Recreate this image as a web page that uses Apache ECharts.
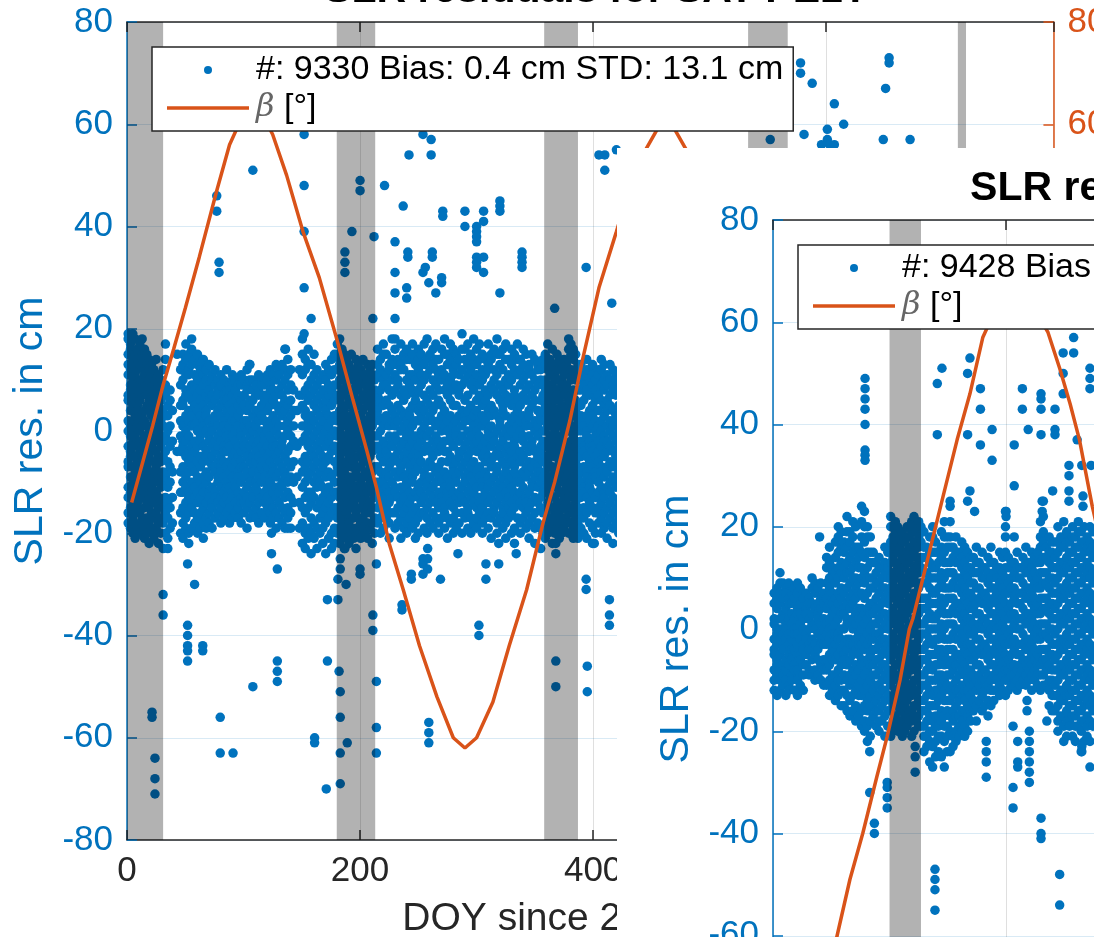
<!DOCTYPE html>
<html>
<head>
<meta charset="utf-8">
<script src="https://cdn.jsdelivr.net/npm/echarts/dist/echarts.min.js"></script>
<style>
html,body{margin:0;padding:0;width:1094px;height:937px;overflow:hidden;background:#fff;position:relative}
.fig{position:absolute;width:1150px;height:1000px;background:#fff}
#figA{left:-29px;top:-50px}
#figB{left:617px;top:148px}
</style>
</head>
<body>
<div id="figA" class="fig"></div>
<div id="figB" class="fig"></div>
<script>
// ---- figure A: SLR residuals, each row is [DOY, res, res, ...] in cm ----
const titleA = 'SLR residuals for SAT PE1T';
const legendA = ['#: 9330 Bias: 0.4 cm STD: 13.1 cm', 'β [°]'];
const xNameA = 'DOY since 2022-01-01';
const resA = [
  [1,19,18,15,13,11,7,6,2,0,-3,-6,-7,-11,-13,-16,-18],
  [3,17,16,12,9,8,4,1,-1,-4,-5,-9,-12,-15,-19],
  [5,19,14,13,10,6,5,2,-2,-3,-7,-10,-11,-14,-17,-20],
  [7,18,15,11,9,7,3,0,-1,-5,-8,-9,-13,-16,-18,-21],
  [9,16,14,12,8,5,4,1,-3,-6,-7,-10,-14,-15,-19],
  [11,17,13,10,9,6,2,0,-2,-4,-8,-11,-12,-16,-20],
  [13,18,15,14,10,7,3,1,-3,-5,-6,-9,-13,-17,-18],
  [15,16,12,11,8,4,2,-1,-2,-6,-8,-10,-12,-15,-19,-21],
  [17,15,13,9,7,5,1,-2,-4,-7,-9,-11,-14,-17,-20],
  [19,14,12,10,6,4,0,-1,-5,-6,-10,-13,-15,-18,-22],
  [21,13,11,8,5,3,1,-3,-4,-8,-11,-12,-16,-19],
  [23,12,9,7,6,2,-1,-2,-6,-9,-10,-14,-17,-20,-21],
  [25,14,10,8,4,1,0,-4,-7,-8,-12,-13,-16,-19],
  [27,11,9,5,3,0,-2,-5,-6,-10,-13,-15,-18,-22],
  [29,10,7,6,2,-1,-3,-6,-9,-11,-14,-17,-20],
  [31,12,8,4,1,-2,-5,-8,-10,-15,-18,-23],
  [33,17,14,9,7,3,-1,-4,-9,-13,-16,-20],
  [35,5,3,0,-2,-6,-8,-11,-14,-17,-21,-23],
  [37,8,6,1,-3,-7,-10,-15,-19],
  [39,4,-2,-8,-13,-18],
  [43,15,-4],
  [46,12,9,5,2,-1,-4,-8,-12,-16,-20],
  [48,15,13,10,6,5,1,-2,-3,-7,-10,-12,-15,-18,-21],
  [50.5,17,14,11,8,7,3,0,-2,-5,-9,-11,-14,-17,-19],
  [53,15,12,11,7,4,2,-1,-4,-6,-8,-12,-13,-16,-20,-22],
  [55.5,18,16,13,9,6,3,1,-3,-5,-7,-10,-14,-15,-19],
  [58,14,11,9,8,5,1,-2,-4,-8,-11,-13,-16,-18],
  [60.5,15,13,10,7,4,2,0,-3,-6,-9,-12,-14,-17,-20],
  [63,13,12,8,6,3,-1,-2,-5,-7,-10,-13,-16,-19],
  [65.5,14,11,9,5,2,1,-3,-6,-9,-11,-12,-15,-18,-21],
  [68,12,10,7,4,3,0,-4,-5,-8,-10,-14,-17,-19],
  [70.5,13,9,8,6,2,-1,-2,-6,-9,-12,-13,-16,-18],
  [73,11,10,7,5,1,0,-3,-5,-7,-11,-14,-15,-19],
  [75.5,12,9,6,3,2,-2,-4,-7,-8,-12,-13,-17],
  [78,10,8,7,4,1,-1,-3,-6,-9,-10,-14,-16],
  [80.5,11,9,5,3,0,-2,-5,-7,-8,-11,-13,-15,-18],
  [83,10,7,6,2,1,-3,-4,-6,-9,-12,-14,-17],
  [85.5,12,8,6,4,0,-1,-4,-7,-10,-11,-13,-16],
  [88,9,8,5,3,1,-2,-3,-6,-8,-11,-14,-15,-18],
  [90.5,11,10,7,4,2,-1,-5,-7,-9,-12,-13,-17],
  [93,10,8,6,2,0,-2,-4,-6,-10,-11,-14,-16],
  [95.5,9,7,5,3,1,-3,-5,-8,-9,-12,-15,-17],
  [98,11,9,6,4,0,-1,-4,-6,-7,-10,-13,-14,-18],
  [100.5,10,7,5,2,1,-2,-3,-7,-9,-12,-14,-16],
  [103,12,9,8,4,2,0,-4,-5,-8,-11,-13,-15,-19],
  [105.5,13,10,6,5,1,-1,-3,-6,-9,-10,-14,-17],
  [108,10,8,6,3,0,-2,-5,-7,-8,-12,-13,-16],
  [110.5,9,7,4,2,1,-3,-4,-6,-10,-11,-15,-17],
  [113,11,8,7,4,2,-1,-2,-5,-8,-9,-12,-14,-18],
  [115.5,10,9,5,3,0,-3,-6,-7,-10,-13,-16],
  [118,9,7,6,2,-1,-2,-4,-8,-9,-12,-14,-17],
  [120.5,11,10,7,4,1,0,-3,-5,-7,-11,-13,-15],
  [123,12,9,8,5,2,-1,-4,-6,-9,-10,-14,-16,-18],
  [125.5,11,8,6,3,1,-2,-3,-7,-8,-12,-15,-17],
  [128,13,10,7,5,2,0,-3,-5,-9,-11,-13,-16,-19],
  [130.5,12,11,8,4,1,-1,-4,-6,-8,-12,-14,-17],
  [133,13,9,7,5,3,-2,-3,-7,-10,-11,-15,-18],
  [135.5,16,12,10,6,4,1,-1,-5,-8,-9,-13,-16,-19],
  [138,14,11,8,5,2,0,-4,-6,-10,-12,-15,-17],
  [140.5,12,9,6,3,-1,-3,-7,-9,-13,-16,-19],
  [143,8,4,1,-2,-6,-10,-14],
  [146,4,-3,-9],
  [148,12,7,-14,-19],
  [150.5,18,15,11,7,5,1,-2,-6,-8,-11,-15,-18,-22],
  [153,14,12,8,4,3,-1,-5,-7,-10,-13,-16,-20,-23],
  [155.5,16,13,9,6,2,0,-3,-6,-9,-12,-15,-19,-21],
  [158,13,10,7,3,1,-2,-4,-8,-12,-14,-17,-20,-24],
  [160.5,15,11,8,5,2,-1,-5,-7,-10,-13,-18,-21],
  [163,12,9,6,4,0,-3,-6,-9,-11,-15,-19,-23],
  [165.5,10,7,3,1,-2,-4,-8,-10,-14,-17,-20],
  [168,11,8,5,2,-1,-5,-7,-11,-13,-16,-19,-22],
  [170.5,13,10,6,4,0,-3,-6,-9,-12,-15,-18,-24],
  [173,12,9,7,3,1,-2,-5,-8,-11,-14,-17,-21],
  [175.5,14,11,8,5,2,-1,-4,-9,-13,-16,-20,-23],
  [178,15,12,9,6,3,0,-3,-6,-10,-12,-15,-19,-22],
  [180.5,17,15,12,9,7,3,2,-1,-4,-7,-8,-12,-15,-17,-20],
  [182.5,18,14,13,10,6,4,0,-3,-5,-6,-10,-13,-16,-19,-22],
  [184.5,16,13,11,8,5,2,1,-2,-6,-9,-11,-14,-18,-21],
  [186.5,15,14,10,7,4,3,-1,-4,-7,-8,-12,-15,-17,-20,-23],
  [188.5,14,12,9,8,5,1,-2,-3,-6,-10,-13,-16,-19,-21],
  [190.5,13,11,10,6,2,0,-3,-5,-9,-11,-14,-17,-18,-22],
  [192.5,15,12,8,5,3,1,-1,-4,-7,-10,-12,-15,-19,-20],
  [194.5,12,10,7,4,1,-2,-5,-6,-9,-13,-14,-17,-21],
  [196.5,14,11,9,6,2,0,-3,-7,-8,-11,-15,-16,-19,-23],
  [198.5,13,9,8,5,3,-1,-2,-5,-9,-12,-13,-17,-20],
  [200.5,12,10,6,3,1,-2,-4,-7,-10,-11,-15,-18,-21],
  [202.5,14,11,7,4,0,-1,-5,-6,-9,-12,-14,-17,-19],
  [204.5,11,9,6,2,1,-3,-4,-8,-11,-13,-16,-20],
  [206.5,13,10,8,5,2,-1,-3,-6,-9,-12,-15,-18,-21],
  [208.5,12,9,7,3,0,-2,-5,-7,-10,-14,-16,-19],
  [210.5,13,11,6,4,1,-1,-4,-8,-11,-12,-15,-18,-22],
  [212.5,10,8,5,2,-1,-3,-7,-10,-13,-17,-20],
  [215,16,13,11,7,4,3,-1,-3,-7,-10,-11,-15,-18],
  [217.5,14,12,8,6,2,0,-4,-5,-8,-12,-14,-17,-20],
  [220,17,15,10,9,5,1,-2,-6,-9,-10,-13,-16,-19],
  [222.5,15,11,9,6,3,2,-3,-4,-8,-11,-15,-17],
  [225,13,12,8,5,1,-1,-5,-7,-9,-12,-14,-18,-21],
  [227.5,18,14,10,7,4,2,-2,-3,-6,-10,-13,-16],
  [230,16,13,11,8,3,1,-1,-5,-8,-11,-12,-16,-19],
  [232.5,14,10,9,5,2,-2,-4,-6,-9,-13,-15,-18],
  [235,17,13,12,7,4,0,-3,-7,-8,-11,-14,-17,-21],
  [237.5,15,12,8,6,3,1,-2,-5,-9,-12,-13,-16,-19],
  [240,16,14,10,7,2,-1,-4,-6,-10,-11,-15,-18,-20],
  [242.5,14,11,9,4,3,0,-3,-7,-8,-12,-14,-17],
  [245,17,15,11,8,5,1,-2,-5,-9,-10,-13,-16,-19],
  [247.5,13,10,7,6,2,-1,-4,-6,-8,-12,-15,-18,-21],
  [250,16,14,12,8,4,2,-3,-5,-7,-11,-13,-17,-20],
  [252.5,15,11,9,5,3,0,-2,-6,-10,-12,-14,-16],
  [255,17,13,10,7,4,1,-1,-4,-8,-9,-13,-16,-19],
  [257.5,18,14,11,6,2,-1,-3,-7,-10,-11,-15,-17,-20],
  [260,15,12,8,5,3,0,-4,-6,-9,-12,-14,-18],
  [262.5,16,13,10,7,4,2,-2,-5,-7,-11,-13,-16,-19],
  [265,17,14,12,9,5,1,-1,-3,-8,-10,-14,-17],
  [267.5,14,11,8,6,2,-2,-4,-7,-9,-12,-15,-18,-20],
  [270,16,12,10,5,3,0,-3,-6,-10,-13,-14,-17],
  [272.5,18,15,11,8,4,1,-2,-4,-8,-11,-15,-16,-19],
  [275,15,13,9,7,2,0,-4,-6,-9,-12,-13,-17,-21],
  [277.5,17,14,10,6,3,-1,-2,-5,-10,-11,-14,-18],
  [280,16,12,11,8,5,1,-3,-7,-8,-12,-15,-17,-20],
  [282.5,15,13,9,5,2,0,-1,-6,-9,-10,-13,-16,-19],
  [285,14,11,8,7,3,-2,-4,-5,-8,-12,-14,-18],
  [287.5,19,16,12,9,4,1,-1,-4,-7,-11,-13,-16,-20],
  [290,16,14,10,6,3,2,-3,-6,-9,-10,-14,-17],
  [292.5,17,13,11,7,4,0,-2,-5,-8,-12,-15,-16,-19],
  [295,15,12,9,5,2,-1,-4,-7,-9,-11,-13,-17,-20],
  [297.5,18,14,10,8,3,1,-3,-6,-10,-12,-14,-18],
  [300,16,13,11,6,4,0,-2,-4,-8,-11,-15,-17,-19],
  [302.5,17,14,9,7,2,-1,-4,-7,-9,-13,-14,-16],
  [305,15,12,10,5,3,1,-3,-5,-10,-11,-15,-18,-20],
  [307.5,14,11,8,6,2,-2,-4,-6,-8,-12,-13,-17],
  [310,17,13,12,7,4,0,-1,-5,-9,-11,-14,-16,-19],
  [312.5,15,14,9,5,3,1,-3,-6,-7,-10,-13,-17,-21],
  [315,16,12,10,8,4,-1,-2,-5,-9,-12,-15,-16],
  [317.5,18,15,11,7,3,0,-4,-7,-8,-11,-14,-18,-20],
  [320,15,13,9,6,2,1,-3,-5,-10,-12,-13,-17],
  [322.5,16,12,8,5,4,-1,-2,-6,-9,-11,-15,-16,-19],
  [325,17,14,10,7,3,0,-4,-7,-8,-12,-14,-18,-21],
  [327.5,14,11,9,6,1,-1,-3,-5,-10,-13,-15,-17],
  [330,16,13,10,5,2,0,-4,-6,-9,-11,-14,-16,-20],
  [332.5,15,12,8,7,3,-2,-3,-7,-8,-12,-15,-19,-22],
  [335,17,14,11,6,4,1,-1,-5,-9,-10,-13,-17],
  [337.5,14,12,9,5,2,0,-4,-6,-10,-12,-14,-18,-20],
  [340,16,13,10,7,3,-1,-2,-5,-8,-11,-15,-17],
  [342.5,15,11,8,6,2,1,-3,-7,-9,-13,-14,-16,-19],
  [345,13,12,9,4,3,-1,-4,-6,-8,-12,-15,-18,-21],
  [347.5,15,11,7,5,1,-2,-3,-7,-10,-11,-14,-17],
  [350,14,10,8,6,2,0,-4,-6,-9,-13,-16,-19,-22],
  [352.5,13,12,9,4,1,-1,-5,-7,-8,-11,-14,-18],
  [355,12,10,6,3,2,-3,-4,-8,-10,-13,-15,-19,-23],
  [357,14,9,7,4,0,-2,-6,-9,-12,-16,-20],
  [359,15,13,10,8,5,2,0,-3,-5,-8,-11,-12,-16,-19,-21],
  [361,17,14,12,9,6,3,1,-2,-6,-7,-10,-14,-15,-18,-20],
  [363,14,12,11,7,4,2,-1,-4,-5,-9,-12,-13,-17,-19],
  [365,16,13,9,8,5,1,-2,-3,-7,-10,-11,-15,-18,-22],
  [367,13,11,10,6,3,0,-1,-5,-8,-9,-13,-16,-17,-20],
  [369,15,12,8,7,4,2,-3,-4,-7,-11,-14,-15,-19],
  [371,14,13,10,6,3,1,-2,-6,-9,-10,-12,-16,-18,-21],
  [373,12,10,9,5,2,-1,-3,-5,-8,-12,-14,-17,-20],
  [375,14,11,8,7,4,0,-2,-6,-7,-10,-13,-15,-19],
  [377,13,12,9,5,3,1,-4,-5,-9,-11,-14,-17,-18],
  [379,18,16,14,11,8,6,2,0,-3,-6,-8,-12,-13,-16,-20],
  [381,17,15,12,10,7,4,1,-2,-4,-7,-10,-11,-15,-18],
  [383,16,14,11,8,5,3,0,-1,-5,-8,-9,-13,-16,-19,-21],
  [385,15,12,10,6,4,1,-2,-3,-6,-10,-12,-14,-17,-20],
  [387,13,11,8,5,2,0,-4,-7,-9,-11,-15,-18,-21],
  [389.5,13,10,8,5,3,0,-2,-5,-8,-10,-13,-16,-19],
  [392,11,9,6,2,1,-3,-4,-7,-11,-12,-15,-17,-20],
  [394.5,14,12,8,7,3,0,-1,-5,-8,-9,-13,-16,-21],
  [397,12,10,7,4,2,-2,-3,-6,-10,-11,-14,-18],
  [399.5,13,11,9,5,3,1,-3,-4,-7,-9,-12,-15,-19,-22],
  [402,10,8,6,2,0,-1,-5,-8,-9,-13,-16,-20],
  [404.5,12,11,7,4,1,-2,-4,-6,-10,-12,-15,-18],
  [407,14,12,9,6,2,0,-3,-7,-8,-11,-14,-17,-20],
  [409.5,13,10,8,5,3,-1,-2,-5,-9,-12,-13,-16,-19],
  [412,11,9,6,4,1,-2,-4,-7,-8,-11,-15,-18,-21],
  [414.5,13,10,7,5,2,0,-3,-6,-10,-12,-14,-17],
  [417,12,9,8,4,1,-1,-4,-7,-9,-13,-16,-19,-22],
  [419.5,11,10,7,3,2,-2,-5,-6,-10,-11,-15,-18],
  [422,10,8,5,3,0,-3,-5,-8,-11,-14,-17,-20]
];
const outA = [
  [21.5,-55,-56],[24,-64,-68,-71],[31,-32,-36],[52,-26,-38,-40,-42,-43,-45],[58,-30],[65,-42,-43],
  [77,46,43],[79,33,31],[80,-56,-63],[91,-63],[105,13],[108,51,-50],[124,-20,-24],[129,-27,-45,-47,-49],
  [136,16],[138,-19],[152,58,48,39,28,19],[158,22],[161,-60,-61],[171,-70],[172,-33,-45],[181,-29,-33],
  [183,-25,-27,-51,-56,-63,-69],[182,-47],[187,35,33,31,-23],[188,-30],[189,-61],[193,39],[200,49,47,-27,-28],
  [211,22,-36,-39],[212,38],[214,-26,-49,-58,-63],[221,48],[230,37,31,27,22,18],[236,-34,-35],[237,44],
  [240,28,26],[241,35,34],[242,54],[244,-28,-29],[254,58,31,-25,-26,-28],[256,32],[258,-23,-25,-27],
  [259,29,-57,-59,-61],[261,57,54],[262,35,34],[265,27],[269,-29],[270,30,29],[271,43,42],[284,-24],
  [290,43,40],[300,40,39,38,37,34,33,32],[302,-38,-40],[306,43,41,34,31],[308,-26,-29],[319,-22,-26],
  [320,45,44,43,27],[334,-24],[339,35,34,33,32],[367,24],[368,-22,-24,-45,-50],[394,32,-29,-31],
  [395,-46,-51],[401,-22],[405,54],[410,54,51],[414,-33,-36,-38],[416,25],[420,55],
  [552,57],[578,72,70],[581,58],[588,68],[596,56],[601,59,57],[603,56],[607,64,56],[615,60],
  [649,57],[651,67],[654,72,73],[672,57]
];
const betaA = [[4,-14],[10,-9],[16,-4],[22,1],[31,9],[40,16],[50,24],[62,34],[77,47],[88,56],[98,61],
  [107,63],[116,62],[125,58],[137,50],[151,39],[165,30],[180,18],[194,6],[206,-4],[214,-11],[225,-22],
  [237,-31],[251,-42],[266,-52],[280,-60],[290,-62],[300,-60],[314,-53],[328,-42],[343,-31],[357,-18],
  [367,-10],[380,2],[391,14],[405,28],[420,39],[432,48],[445,55],[455,59],[462,60],[470,59],[480,55],
  [490,49],[500,42]];
const shadeA = [[0,31],[180,213],[358,387],[533,567],[713,720]];

// ---- figure B ----
const titleB = 'SLR residuals for SAT PE1T';
const legendB = ['#: 9428 Bias: 0.6 cm STD: 12.8 cm', 'β [°]'];
const xNameB = 'DOY since 2022-01-01';
const resB = [
  [1,7,5,2,1,-2,-4,-5,-8,-10,-12],
  [3.5,8,6,4,0,-1,-3,-6,-7,-9,-13],
  [6,11,9,7,5,2,0,-2,-5,-8,-10,-12],
  [8.5,9,6,3,2,-1,-3,-4,-7,-9,-11],
  [11,8,7,4,1,0,-2,-6,-8,-10,-13],
  [13.5,9,6,5,2,-1,-3,-5,-7,-11,-12],
  [16,7,5,3,1,-2,-4,-6,-9,-10],
  [18.5,8,6,2,0,-1,-4,-7,-8,-12],
  [21,9,7,4,3,-1,-3,-5,-8,-10,-13],
  [23.5,8,5,3,1,-2,-5,-6,-9,-11],
  [26,7,6,2,0,-3,-4,-7,-9,-12],
  [28.5,7,4,3,-1,-2,-5,-7],
  [31,6,5,2,0,-3,-4,-8,-9],
  [33.5,10,8,5,3,1,-2,-4,-6,-9],
  [36,9,7,4,1,0,-3,-5,-8,-10],
  [38.5,8,5,3,2,-1,-4,-6,-9],
  [41,9,6,4,1,-2,-3,-7,-10],
  [43.5,7,5,2,0,-3,-6,-8,-11],
  [46,14,12,9,6,4,1,-1,-3,-6,-8,-11],
  [48.5,16,13,10,8,5,2,0,-2,-5,-7,-10,-13],
  [51,12,11,7,5,3,0,-1,-4,-6,-9,-12],
  [53.5,17,14,11,9,6,4,1,-1,-3,-6,-9,-11,-14],
  [56,20,18,15,12,10,7,5,2,-1,-2,-5,-8,-10,-13],
  [58.5,19,16,13,11,8,6,3,0,-2,-4,-7,-10,-12,-15],
  [61,17,15,12,10,7,4,3,0,-3,-5,-6,-9,-12,-15],
  [63.5,22,19,16,13,11,8,5,2,1,-2,-4,-7,-10,-13,-16],
  [66,19,17,14,11,9,6,4,1,-2,-3,-6,-9,-11,-14,-17],
  [68.5,21,18,15,12,10,7,5,2,0,-3,-5,-8,-10,-13,-16],
  [71,20,16,13,10,8,6,3,1,-2,-4,-7,-9,-12,-15,-18],
  [73.5,16,14,12,9,7,4,2,-1,-3,-5,-8,-11,-13,-17],
  [76,24,21,18,15,12,10,7,4,2,0,-3,-6,-7,-10,-13,-16,-19],
  [78.5,23,20,17,14,11,9,6,3,1,-2,-4,-7,-9,-12,-15,-18,-20],
  [81,20,18,15,12,10,7,4,2,-1,-3,-6,-8,-11,-14,-16,-19,-22],
  [83.5,18,15,13,10,8,5,3,0,-2,-5,-7,-10,-13,-15,-18,-21],
  [86,15,13,10,8,5,3,1,-2,-4,-7,-9,-12,-15,-17],
  [88.5,13,11,9,6,4,1,-1,-4,-6,-9,-11,-14,-16,-19],
  [91,14,12,9,7,4,2,-1,-3,-6,-8,-11,-13,-16,-18,-20],
  [93.5,12,10,8,5,3,0,-2,-5,-7,-10,-12,-15,-18],
  [96,16,13,11,8,6,3,1,-2,-4,-7,-9,-12,-14,-17,-21],
  [98.5,15,12,10,7,5,2,0,-3,-5,-8,-10,-13,-16,-19],
  [101,22,20,17,15,13,10,8,6,3,1,-2,-4,-6,-9,-11,-14,-16,-19,-21],
  [103,18,16,14,11,9,7,4,2,-1,-3,-5,-8,-10,-13,-15,-18,-20],
  [105,21,19,16,13,11,8,6,3,1,-2,-4,-7,-9,-12,-14,-17,-19],
  [107,20,17,15,12,10,7,5,2,0,-2,-5,-7,-10,-12,-15,-18,-20],
  [109,18,16,13,11,8,6,3,1,-2,-4,-6,-9,-11,-14,-16,-19],
  [111,19,17,14,12,9,7,4,2,-1,-3,-6,-8,-11,-13,-16,-18,-21],
  [113,17,15,12,10,7,5,2,0,-3,-5,-7,-10,-12,-15,-17,-20],
  [115,20,18,15,13,10,8,5,3,0,-2,-4,-7,-9,-12,-14,-17,-19],
  [117,18,16,13,11,9,6,4,1,-1,-4,-6,-8,-11,-13,-16,-18],
  [119,21,19,16,14,11,9,6,4,1,-1,-3,-6,-8,-11,-13,-16,-18,-21],
  [121,22,20,17,15,12,10,7,5,2,0,-3,-5,-7,-10,-12,-15,-17,-20],
  [123,19,17,14,12,9,7,4,2,-1,-3,-6,-8,-10,-13,-15,-18],
  [125,21,18,16,13,11,8,6,3,1,-2,-4,-7,-9,-12,-14,-17,-19],
  [127,20,17,14,12,9,6,4,1,-1,-4,-6,-9,-11,-14,-16,-19],
  [129.5,19,16,14,11,9,6,4,1,-1,-4,-6,-9,-11,-14,-16,-19,-21,-24],
  [132,16,14,11,9,6,4,2,-1,-3,-6,-8,-11,-13,-16,-18,-21,-23],
  [134.5,18,15,13,10,8,5,3,0,-2,-5,-7,-10,-12,-15,-17,-20,-22,-26],
  [137,20,18,15,12,10,7,5,2,0,-3,-5,-8,-10,-13,-15,-18,-20,-23,-27],
  [139.5,17,15,12,10,7,5,2,0,-2,-5,-7,-10,-12,-15,-17,-19,-22,-25],
  [142,15,13,10,8,5,3,0,-2,-4,-7,-9,-12,-14,-17,-19,-21,-24],
  [144.5,19,16,14,11,9,6,4,1,-1,-4,-6,-9,-11,-13,-16,-18,-21,-25],
  [147,21,18,15,13,10,8,5,3,0,-2,-5,-7,-10,-12,-14,-17,-19,-22,-27],
  [149.5,18,16,13,11,8,6,3,1,-2,-4,-6,-9,-11,-14,-16,-19,-21,-24],
  [152,24,21,18,16,13,11,8,6,3,1,-2,-4,-7,-9,-12,-14,-17,-20,-24],
  [154.5,16,14,11,9,6,4,1,-1,-4,-6,-8,-11,-13,-16,-18,-21,-23],
  [157,18,15,13,10,8,5,3,0,-2,-5,-7,-10,-12,-15,-17,-20,-22],
  [159.5,15,13,10,8,5,3,0,-2,-5,-7,-9,-12,-14,-17,-19,-21],
  [162,17,14,12,9,7,4,2,-1,-3,-6,-8,-11,-13,-16,-18,-20],
  [164.5,16,13,11,8,6,3,1,-2,-4,-7,-9,-12,-14,-16,-19,-21],
  [167,15,12,10,7,5,2,0,-3,-5,-8,-10,-12,-15,-17,-20],
  [169.5,14,12,9,7,4,2,-1,-3,-6,-8,-11,-13,-16,-18],
  [172,14,11,9,6,4,1,-1,-4,-6,-9,-11,-14,-16],
  [174.5,16,13,11,8,5,3,0,-2,-5,-7,-10,-12,-15,-18],
  [177,13,11,8,6,3,1,-2,-4,-7,-9,-11,-14],
  [179.5,15,12,10,7,5,2,0,-3,-5,-8,-10,-13,-16],
  [182,12,10,7,5,2,0,-3,-5,-8,-10,-12,-15],
  [184.5,14,11,9,6,4,1,-1,-4,-6,-9,-11,-14,-17],
  [187,16,13,10,8,5,3,0,-2,-5,-7,-10,-12,-15],
  [189.5,13,11,8,6,3,1,-2,-4,-7,-9,-12,-14],
  [192,12,10,7,5,2,0,-3,-5,-8,-10,-12],
  [194.5,15,12,9,7,4,2,-1,-3,-6,-8,-11,-13],
  [197,14,11,8,6,3,1,-2,-4,-7,-9,-12],
  [199.5,23,20,18,15,12,10,7,5,2,0,-3,-5,-8,-10,-13],
  [202,14,12,9,7,4,2,-1,-3,-6,-8,-10,-12],
  [204.5,13,10,8,5,3,0,-2,-5,-7,-9,-11],
  [207,13,11,8,6,3,1,-2,-4,-7,-9,-11],
  [209.5,15,12,10,7,5,2,0,-3,-5,-8,-10,-12],
  [212,12,10,7,5,2,0,-3,-5,-7,-9,-11],
  [214.5,14,12,9,7,4,2,-1,-3,-6,-8,-10],
  [217,16,13,11,8,6,3,1,-2,-4,-7,-9,-11],
  [219.5,13,11,8,6,3,1,-2,-4,-6,-8,-10],
  [222,15,12,10,7,5,2,0,-3,-5,-7,-9,-12],
  [224.5,14,11,9,6,4,1,-1,-4,-6,-8,-10],
  [227,15,13,10,8,5,3,0,-2,-5,-7,-9,-11],
  [229.5,21,18,16,13,11,8,6,3,1,-2,-4,-7,-9,-12],
  [232,25,22,19,17,14,11,9,6,4,1,-1,-4,-6,-9,-11],
  [234.5,16,14,11,9,6,4,1,-1,-4,-6,-8,-11],
  [237,18,15,13,10,8,5,3,0,-2,-5,-7,-10,-12,-15],
  [239.5,17,15,12,10,7,5,2,0,-3,-5,-8,-10,-13,-16],
  [242,17,14,12,9,7,4,2,-1,-3,-6,-8,-11,-13,-16],
  [244.5,20,17,15,12,10,7,5,2,0,-3,-5,-8,-10,-13,-15,-18,-20],
  [247,18,16,13,11,8,6,3,1,-2,-4,-7,-9,-12,-14,-17],
  [249.5,21,18,16,13,11,8,6,3,1,-2,-4,-7,-9,-12,-14,-17,-19,-22],
  [252,19,17,14,12,9,7,4,2,-1,-3,-6,-8,-11,-13,-16,-18,-21],
  [254.5,17,15,12,10,7,5,2,0,-3,-5,-8,-10,-13,-15,-18,-19],
  [257,20,18,15,13,10,8,5,3,0,-2,-5,-7,-10,-12,-15,-17,-21],
  [259.5,18,16,13,11,8,6,3,1,-2,-4,-7,-9,-12,-14,-17,-19,-22],
  [262,21,19,16,14,11,9,6,4,1,-1,-4,-6,-9,-11,-14,-16,-19],
  [264.5,19,17,14,12,9,7,4,2,-1,-3,-6,-8,-11,-13,-16,-18,-20,-24],
  [267,20,17,15,12,10,7,5,2,0,-3,-5,-8,-10,-13,-15,-18,-22],
  [269.5,18,16,13,11,8,6,3,1,-2,-4,-7,-9,-12,-14,-17,-19,-21],
  [272,20,17,15,12,10,7,5,2,0,-3,-5,-8,-10,-13,-15,-18,-22],
  [274.5,19,16,14,11,9,6,4,1,-1,-4,-6,-9,-11,-14,-16,-19]
];
const outB = [
  [40,18],[79,49,47,45,43,40,35,34,33],[141,48,38],[145,51],[152,25],[167,50,38,25],[169,53,27],[173,23],
  [178,47,43,36],[188,39,33],[200,23,22],[207,36,28,18],[214,47,43],[219,39],[230,46,45,43,38],[231,25,23],
  [240,27],[242,43,39,38],[249,54,50,46],[254,32,30,27,25],[258,57,54],[261,37],[265,32],[266,26,24],
  [272,51,49,47],[273,32],
  [83,-24,-32],[87,-38,-40],[98,-30,-31,-33,-35],[122,-23,-25,-28],[139,-47,-49,-51,-55],[183,-22,-24,-26,-29],
  [206,-19,-31,-35],[210,-22,-26,-27],[220,-20,-22,-24,-26,-28,-30],[218,-14,-16],[230,-37,-40,-41],
  [235,-18],[246,-48,-54],[265,-23,-24],[272,-27]
];
const betaB = [[36,-78],[45,-70],[55,-60],[66,-49],[77,-40],[89,-29],[98,-21],[109,-10],[117,0],[120,2],
  [132,13],[146,26],[158,37],[169,46],[180,57],[190,62],[200,65],[208,66],[216,65],[226,62],[236,58],
  [246,51],[255,44],[263,37],[274,24],[285,13],[295,3]];
const shadeB = [[100,127]];

const yRange = [-80, 80, 20];
const xRange = [0, 795, 200];

const FONT = 'Liberation Sans, Arial, Helvetica, sans-serif';
const BLUE = '#0072BD', ORANGE = '#D95319', AX = '#262626';

function toPoints(rows) {
  const pts = [];
  rows.forEach(r => { for (let i = 1; i < r.length; i++) pts.push([r[0], r[i]]); });
  return pts;
}

function buildOption(title, legendNames, xName, res, out, beta, shade) {
  const xBase = {
    type: 'value', min: xRange[0], max: xRange[1], interval: xRange[2],
    axisLine: { show: true, onZero: false, lineStyle: { color: AX, width: 1.5 } },
    axisTick: { show: true, inside: true, length: 10, lineStyle: { color: AX, width: 1.5 } }
  };
  const yBase = { type: 'value', min: yRange[0], max: yRange[1], interval: yRange[2] };
  return {
    animation: false,
    title: {
      text: title, left: 620, top: 15, textAlign: 'center',
      textStyle: { fontFamily: FONT, fontSize: 41, fontWeight: 'bold', color: '#000' }
    },
    legend: {
      data: [
        { name: legendNames[0], icon: 'circle' },
        { name: legendNames[1], icon: 'path://M0,0H82V3.5H0Z' }
      ],
      orient: 'vertical', left: 181, top: 97, z: 10,
      itemWidth: 82, itemHeight: 8, itemGap: 0, padding: [4, 10, 4, 15],
      backgroundColor: '#fff', borderColor: AX, borderWidth: 1.5, borderRadius: 0,
      formatter: n => n.replace('β', '{g|β}'),
      textStyle: {
        fontFamily: FONT, fontSize: 34, color: '#000', lineHeight: 38, padding: [0, 0, 0, 2],
        rich: { g: { fontFamily: 'DejaVu Serif', fontStyle: 'italic', fontSize: 32, color: '#666', lineHeight: 38 } }
      },
      selectedMode: false
    },
    grid: { left: 156, top: 72, width: 928, height: 818, containLabel: false },
    xAxis: [
      Object.assign({}, xBase, {
        position: 'bottom',
        axisLabel: { color: AX, fontSize: 35, fontFamily: FONT, margin: 14, showMaxLabel: false },
        splitLine: { show: true, lineStyle: { color: 'rgba(38,38,38,0.15)', width: 1 } },
        name: xName, nameLocation: 'middle', nameGap: 60,
        nameTextStyle: { color: AX, fontSize: 39, fontFamily: FONT, padding: [0, 0, 0, 21] }
      }),
      Object.assign({}, xBase, { position: 'top', axisLabel: { show: false }, splitLine: { show: false } })
    ],
    yAxis: [
      Object.assign({}, yBase, {
        position: 'left',
        axisLine: { show: true, onZero: false, lineStyle: { color: BLUE, width: 1.5 } },
        axisTick: { show: true, inside: true, length: 10, lineStyle: { color: BLUE, width: 1.5 } },
        axisLabel: { color: BLUE, fontSize: 35, fontFamily: FONT, margin: 14 },
        splitLine: { show: true, lineStyle: { color: 'rgba(0,114,189,0.15)', width: 1 } },
        name: 'SLR res. in cm', nameLocation: 'middle', nameGap: 72,
        nameTextStyle: { color: BLUE, fontSize: 41, fontFamily: FONT }
      }),
      Object.assign({}, yBase, {
        position: 'right',
        axisLine: { show: true, onZero: false, lineStyle: { color: ORANGE, width: 1.5 } },
        axisTick: { show: true, inside: true, length: 10, lineStyle: { color: ORANGE, width: 1.5 } },
        axisLabel: { color: ORANGE, fontSize: 35, fontFamily: FONT, margin: 14 },
        splitLine: { show: false }
      })
    ],
    series: [
      {
        name: legendNames[0], type: 'scatter', data: toPoints(res).concat(toPoints(out)),
        symbol: 'circle', symbolSize: 9.5, itemStyle: { color: BLUE, opacity: 1 }, z: 2, silent: true
      },
      {
        name: 'eclipse', type: 'scatter', data: [], z: 3, silent: true,
        markArea: {
          silent: true, z: 3, itemStyle: { color: 'rgba(0,0,0,0.3)' },
          data: shade.map(s => [{ xAxis: s[0] }, { xAxis: s[1] }])
        }
      },
      {
        name: legendNames[1], type: 'line', yAxisIndex: 1, data: beta, symbol: 'none', showSymbol: false,
        lineStyle: { color: ORANGE, width: 3.5 }, itemStyle: { color: ORANGE }, z: 4, silent: true
      }
    ]
  };
}

const chartA = echarts.init(document.getElementById('figA'), null, { renderer: 'canvas' });
chartA.setOption(buildOption(titleA, legendA, xNameA, resA, outA, betaA, shadeA));
const chartB = echarts.init(document.getElementById('figB'), null, { renderer: 'canvas' });
chartB.setOption(buildOption(titleB, legendB, xNameB, resB, outB, betaB, shadeB));
</script>
</body>
</html>
